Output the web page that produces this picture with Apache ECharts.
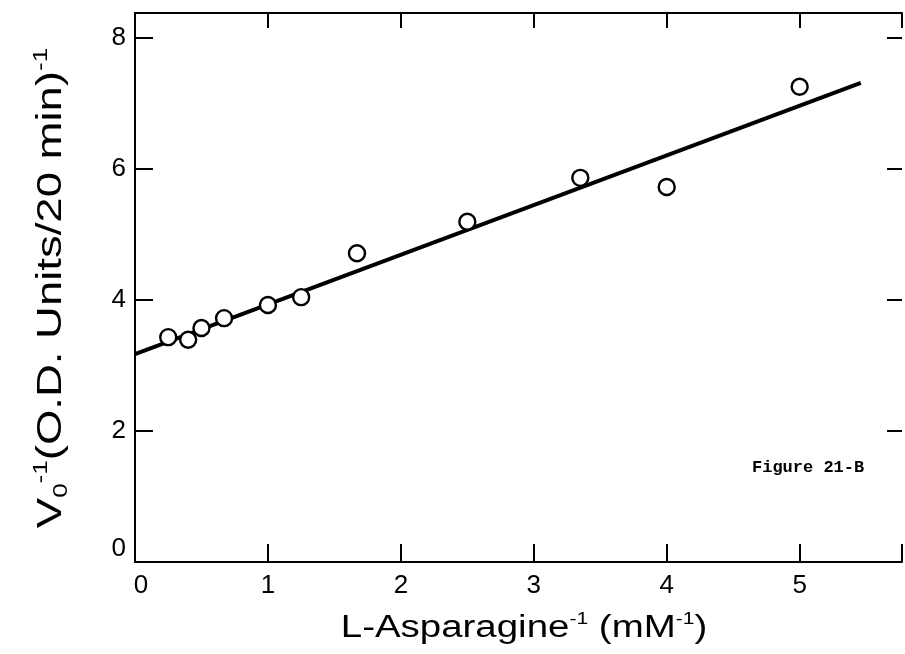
<!DOCTYPE html>
<html>
<head>
<meta charset="utf-8">
<script src="https://cdn.jsdelivr.net/npm/echarts@6/dist/echarts.min.js"></script>
<style>
html,body{margin:0;padding:0;background:#fff;}
#chart{width:905px;height:654px;}
</style>
</head>
<body>
<div id="chart"></div>
<script>
// Measured points (reciprocal substrate vs reciprocal velocity)
var xValues = [0.25, 0.4, 0.5, 0.67, 1.0, 1.25, 1.67, 2.5, 3.35, 4.0, 5.0];
var yValues = [3.43, 3.39, 3.57, 3.72, 3.92, 4.04, 4.71, 5.19, 5.86, 5.72, 7.25];
// Fitted line end points
var lineX = [0, 5.46];
var lineY = [3.17, 7.31];
// Axis ticks
var xTicks = [0, 1, 2, 3, 4, 5];
var yTicks = [0, 2, 4, 6, 8];
var xTitleText = 'L-Asparagine';
var yTitleText = '(O.D. Units/20 min)';
var figLabel = 'Figure 21-B';

var X_MAX = 5.77, Y_MAX = 8.375;
var chart = echarts.init(document.getElementById('chart'));
var font = 'Liberation Sans';

function pts(xs, ys){ return xs.map(function(x,i){ return [x, ys[i]]; }); }

function tickAxis(pos, max, interval, len) {
  return {
    type: 'value', min: 0, max: max, interval: interval, position: pos,
    axisLine: {show: false, onZero: false},
    axisTick: {show: true, inside: true, length: len, lineStyle: {color: '#000', width: 2}},
    splitLine: {show: false}, axisLabel: {show: false}
  };
}

var option = {
  animation: false,
  backgroundColor: '#fff',
  grid: {left: 135, top: 13, width: 767, height: 549},
  xAxis: [{
    type: 'value', min: 0, max: X_MAX, interval: 1, position: 'bottom',
    axisLine: {show: true, onZero: false, lineStyle: {color: '#000', width: 2}},
    axisTick: {show: false},
    splitLine: {show: false},
    axisLabel: {
      color: '#000', fontFamily: font, fontSize: 26, margin: 11,
      formatter: function(v){ if (xTicks.indexOf(v) < 0) return ''; return v === 0 ? '{z|0}' : String(v); },
      rich: {z: {fontFamily: font, fontSize: 26, color: '#000', padding: [0, 0, 0, 12]}}
    }
  }, {
    type: 'value', min: 0, max: X_MAX, interval: 1, position: 'top',
    axisLine: {show: true, onZero: false, lineStyle: {color: '#000', width: 2}},
    axisTick: {show: true, inside: true, length: 15, lineStyle: {color: '#000', width: 2}},
    splitLine: {show: false}, axisLabel: {show: false}
  }, tickAxis('bottom', X_MAX, 1, 18)],
  yAxis: [{
    type: 'value', min: 0, max: Y_MAX, interval: 2, position: 'left',
    axisLine: {show: true, onZero: false, lineStyle: {color: '#000', width: 2}},
    axisTick: {show: false},
    splitLine: {show: false},
    axisLabel: {
      color: '#000', fontFamily: font, fontSize: 26, margin: 9,
      formatter: function(v){ if (yTicks.indexOf(v) < 0) return ''; return v === 0 ? '{z|0}' : String(v); },
      rich: {z: {fontFamily: font, fontSize: 26, color: '#000', padding: [0, 0, 26, 0]}}
    }
  }, tickAxis('right', Y_MAX, 2, 15), tickAxis('left', Y_MAX, 2, 18)],
  series: [{
    type: 'line', data: pts(lineX, lineY), symbol: 'none',
    lineStyle: {color: '#000', width: 4}, z: 2
  }, {
    type: 'scatter', data: pts(xValues, yValues), symbol: 'circle', symbolSize: 16,
    itemStyle: {color: '#fff', borderColor: '#000', borderWidth: 2.4, opacity: 1}, z: 3
  }],
  graphic: [{
    type: 'text', x: 524, y: 628, scaleX: 1.24,
    style: {
      text: xTitleText + '{sup|-1} (mM{sup|-1})',
      font: '31px "' + font + '"', fill: '#000',
      align: 'center', verticalAlign: 'middle',
      rich: {sup: {fontFamily: font, fontSize: 17, fill: '#000', verticalAlign: 'top', lineHeight: 34}}
    }
  }, {
    type: 'text', x: 51, y: 288, rotation: Math.PI / 2, scaleX: 1.3,
    style: {
      text: 'V{sub|0}{sup|-1}' + yTitleText + '{sup|-1}',
      font: '35px "' + font + '"', fill: '#000',
      align: 'center', verticalAlign: 'middle',
      rich: {
        sub: {fontFamily: font, fontSize: 20, fill: '#000', verticalAlign: 'bottom', lineHeight: 40},
        sup: {fontFamily: font, fontSize: 20, fill: '#000', verticalAlign: 'top', lineHeight: 40}
      }
    }
  }, {
    type: 'text', x: 752, y: 468,
    style: {
      text: figLabel, font: 'bold 17px "Liberation Mono"', fill: '#000',
      align: 'left', verticalAlign: 'middle'
    }
  }]
};
chart.setOption(option);
</script>
</body>
</html>
